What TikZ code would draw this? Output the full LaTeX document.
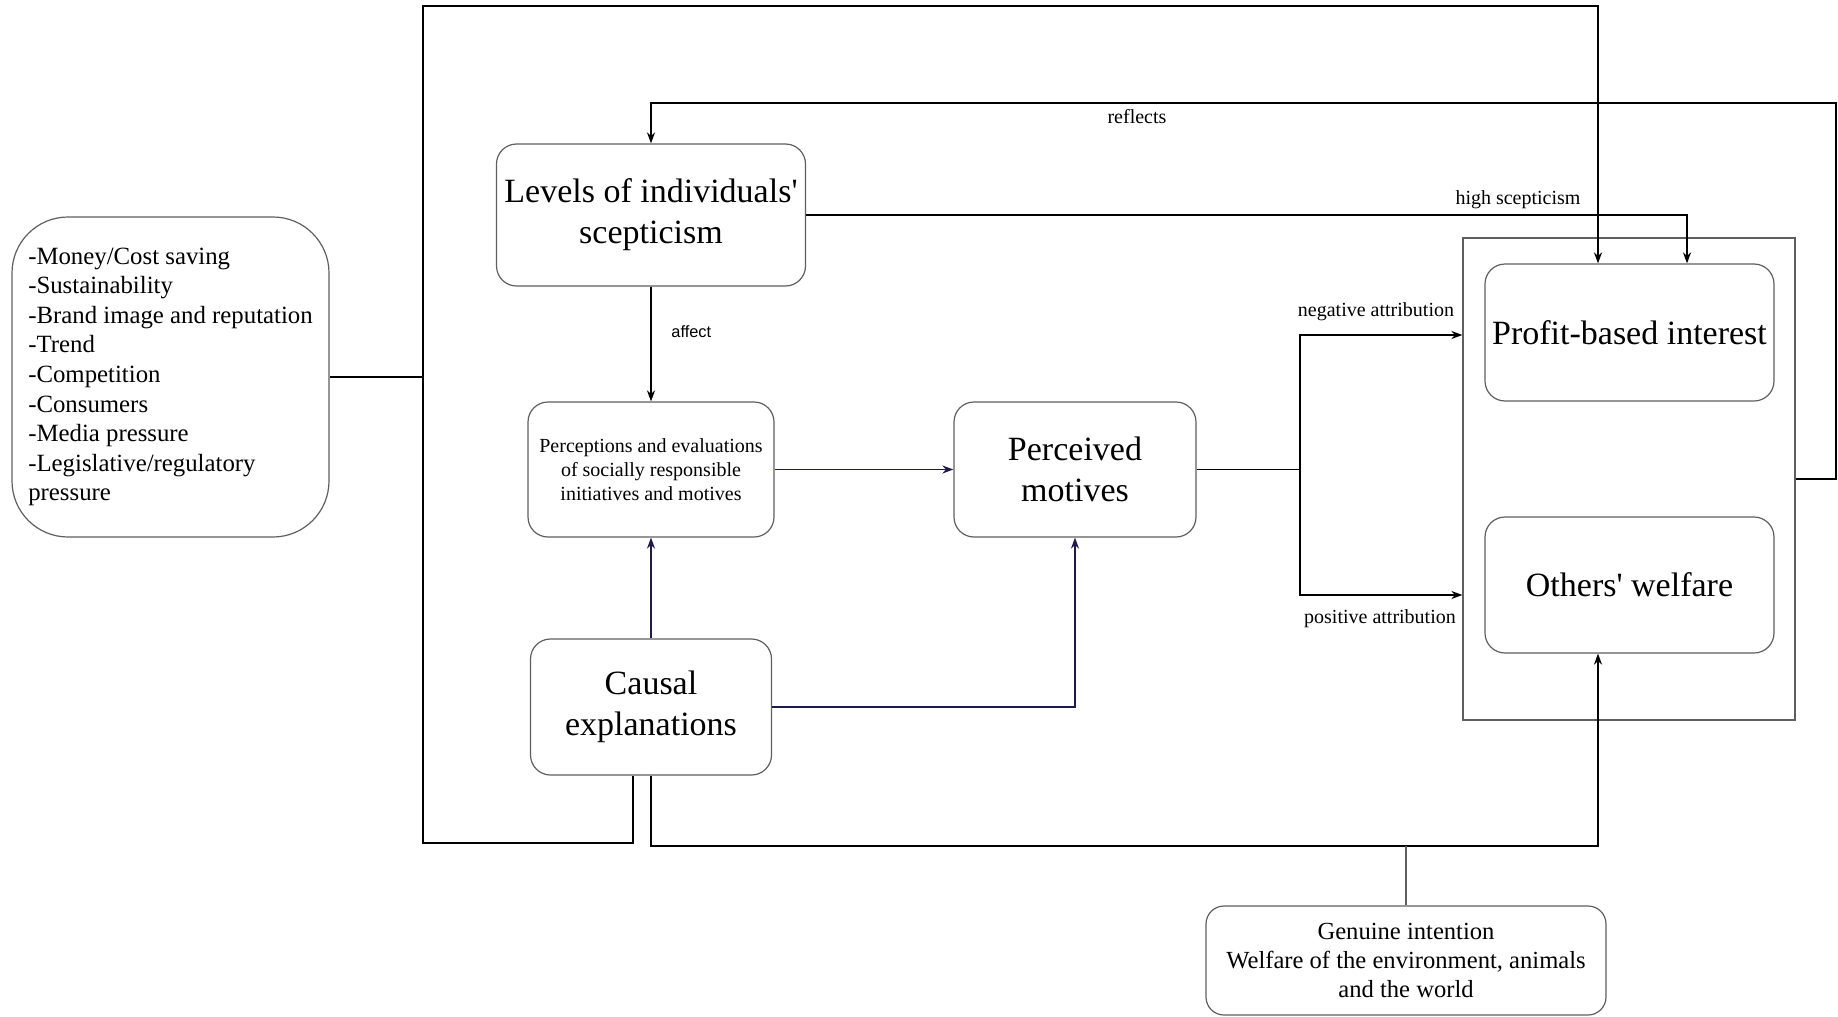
\documentclass[tikz,border=0pt]{standalone}
\usepackage{fontspec}
\setmainfont{Liberation Serif}
\newfontfamily\lblsans{Liberation Sans}
\usetikzlibrary{arrows.meta,calc}
\definecolor{navyline}{RGB}{30,26,80}
\definecolor{boxgray}{RGB}{95,95,95}
\begin{document}
\begin{tikzpicture}[x=0.5pt,y=-0.5pt,
  box/.style={draw=boxgray,line width=0.6pt,rounded corners=10pt,fill=white,align=center,inner sep=0pt},
  bigtxt/.style={font=\fontsize{17}{20.5}\selectfont},
  conn/.style={draw=black,line width=0.95pt},
  navy/.style={draw=navyline,line width=0.95pt},
  tip/.style={-{Stealth[length=5.5pt,width=4pt]}},
  lbl/.style={font=\fontsize{10}{12}\selectfont,inner sep=0pt}
]
\useasboundingbox (0,0) rectangle (1838,1017);

% frame around the two motive types
\node[draw=boxgray,line width=0.6pt,minimum width=166pt,minimum height=241pt,inner sep=0pt] (container) at (1629,479) {};

% boxes
\node[box,rounded corners=28pt,minimum width=158.5pt,minimum height=160pt,align=left,
      font=\fontsize{12.4}{14.8}\selectfont] (factors) at (170.5,377)
  {-Money/Cost saving\\-Sustainability\\-Brand image and reputation\\-Trend\\-Competition\\-Consumers\\-Media pressure\\-Legislative/regulatory\\pressure};
\node[box,bigtxt,minimum width=154.5pt,minimum height=71pt] (levels) at (651,215) {Levels of individuals\textquotesingle\\scepticism};
\node[box,minimum width=123pt,minimum height=67.5pt,font=\fontsize{10}{12}\selectfont] (percep) at (651,469.5)
  {Perceptions and evaluations\\of socially responsible\\initiatives and motives};
\node[box,bigtxt,minimum width=121pt,minimum height=67.5pt] (perceived) at (1075,469.5) {Perceived\\motives};
\node[box,bigtxt,minimum width=120.5pt,minimum height=68pt] (causal) at (651,707) {Causal\\explanations};
\node[box,bigtxt,minimum width=144.5pt,minimum height=68.5pt] (profit) at (1629.5,332.5) {Profit-based interest};
\node[box,bigtxt,minimum width=144.5pt,minimum height=68pt] (others) at (1629.5,585) {Others\textquotesingle\ welfare};
\node[box,rounded corners=9pt,minimum width=200pt,minimum height=54.5pt,font=\fontsize{12.3}{14.5}\selectfont] (genuine) at (1406,960.5)
  {Genuine intention\\Welfare of the environment, animals\\and the world};

% routing points
\coordinate (loopL) at (423,377);
\coordinate (loopBL) at (423,843);
\coordinate (loopTL) at (423,6);
\coordinate (botR) at (1598,846);
\coordinate (refR) at (1836,103);
\coordinate (split) at (1300,469.5);

% outer loop from causal explanations up to profit-based interest
\draw[conn] (factors.east) -- (loopL);
\draw[conn,tip] ([xshift=-9pt]causal.south) |- (loopBL) -- (loopTL) -| ([xshift=-15.75pt]profit.north);
% causal explanations to others' welfare
\draw[conn,tip] (causal.south) |- (botR) -- ([xshift=-15.75pt]others.south);
\draw[draw=boxgray,line width=0.6pt] (genuine.north) -- (genuine.north |- botR);

% reflects
\draw[conn,tip] (container.east) -| (refR) -| (levels.north);
\node[lbl] (reflectslbl) at (1137,117) {reflects};

% high scepticism
\draw[conn,tip] (levels.east) -| ([xshift=28.75pt]profit.north);
\node[lbl] (highlbl) at (1518,200) {high scepticism};

% affect
\draw[conn,tip] (levels.south) -- (percep.north);
\node[inner sep=0pt,anchor=west,font=\lblsans\fontsize{8.2}{10}\selectfont] (affectlbl) at (671,332) {affect};

% navy links
\draw[navy,tip] (percep.east) -- (perceived.west);
\draw[navy,tip] (causal.north) -- (percep.south);
\draw[navy,tip] (causal.east) -| (perceived.south);

% attributions
\draw[conn] (perceived.east) -- (split);
\draw[conn,tip] (split) |- ([yshift=72pt]container.west);
\draw[conn,tip] (split) |- ([yshift=-58pt]container.west);
\node[lbl] (neglbl) at (1376,312) {negative attribution};
\node[lbl] (poslbl) at (1380,619) {positive attribution};
\end{tikzpicture}
\end{document}
